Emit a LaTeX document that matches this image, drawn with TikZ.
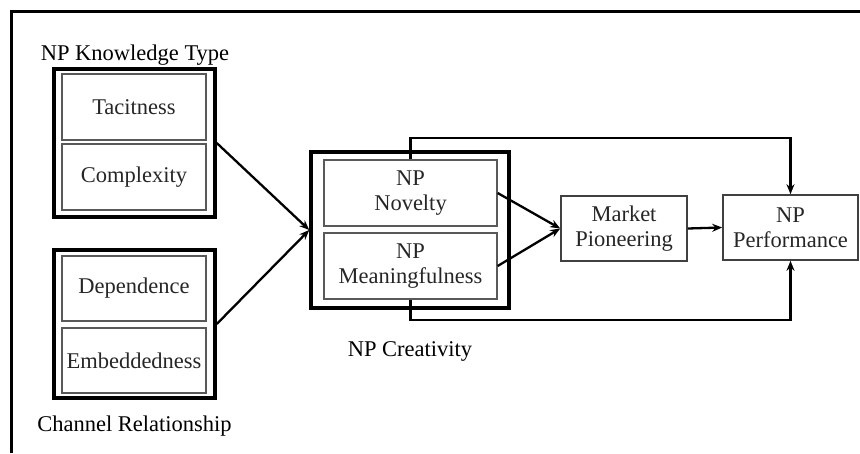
\documentclass[tikz,border=0pt]{standalone}
\usepackage{fontspec}
\setmainfont{Liberation Serif}
\usetikzlibrary{arrows.meta}
\begin{document}
\begin{tikzpicture}[x=1pt,y=-1pt,
  every node/.style={font=\fontsize{22.5}{25}\selectfont},
  outerbox/.style={draw=black,line width=3.5pt,minimum width=161pt,minimum height=148pt,inner sep=0pt},
  innerbox/.style={draw=black!65,line width=1.3pt,minimum width=144pt,minimum height=66pt,inner sep=0pt,text=black!85,align=center},
  plainbox/.style={draw=black!75,line width=1.6pt,minimum height=65pt,inner sep=0pt,text=black!85,align=center},
  title/.style={anchor=base,text=black},
  conn/.style={line width=2.3pt,-{Stealth[length=10pt,width=8pt]}},
  fb/.style={line width=2.3pt,-{Stealth[length=10pt,width=8pt]}}
]
\useasboundingbox (0,0) rectangle (860,453);
% frame (top and left only)
\draw[line width=3pt] (11,453) -- (11,11) -- (860,11);

% Knowledge type
\node[outerbox] (kt) at (134.5,143) {};
\node[innerbox] (tac) at (134,107) {Tacitness};
\node[innerbox] (cpx) at (134,177) {Complexity};
\node[title] (ktl) at (135,60) {NP Knowledge Type};

% Channel relationship
\node[outerbox] (cr) at (134.5,324) {};
\node[innerbox,minimum height=65pt] (dep) at (134,288.5) {Dependence};
\node[innerbox,minimum height=65pt] (emb) at (134,360.5) {Embeddedness};
\node[title] (crl) at (134.5,431) {Channel Relationship};

% Creativity
\node[outerbox,minimum width=198pt,minimum height=156pt] (cre) at (410,230) {};
\node[innerbox,minimum width=173pt] (nov) at (410.5,193) {NP\\Novelty};
\node[innerbox,minimum width=173pt] (mea) at (410.5,266) {NP\\Meaningfulness};
\node[title] (crel) at (410,356) {NP Creativity};

% Market pioneering and performance
\node[plainbox,minimum width=126pt] (mp) at (624,228.5) {Market\\Pioneering};
\node[plainbox,minimum width=135pt] (perf) at (790.5,227.5) {NP\\Performance};

% connectors
\draw[conn] (kt.east) -- (cre.west);
\draw[conn] (cr.east) -- (cre.west);
\draw[conn] (nov.east) -- (mp.west);
\draw[conn] (mea.east) -- (mp.west);
\draw[conn] (mp.east) -- (perf.west);

\coordinate (topc) at (410.5,138);
\coordinate (botc) at (410.5,320);
\draw[fb] (nov.north) -- (topc) -| (perf.north);
\draw[fb] (mea.south) -- (botc) -| (perf.south);
\end{tikzpicture}
\end{document}
